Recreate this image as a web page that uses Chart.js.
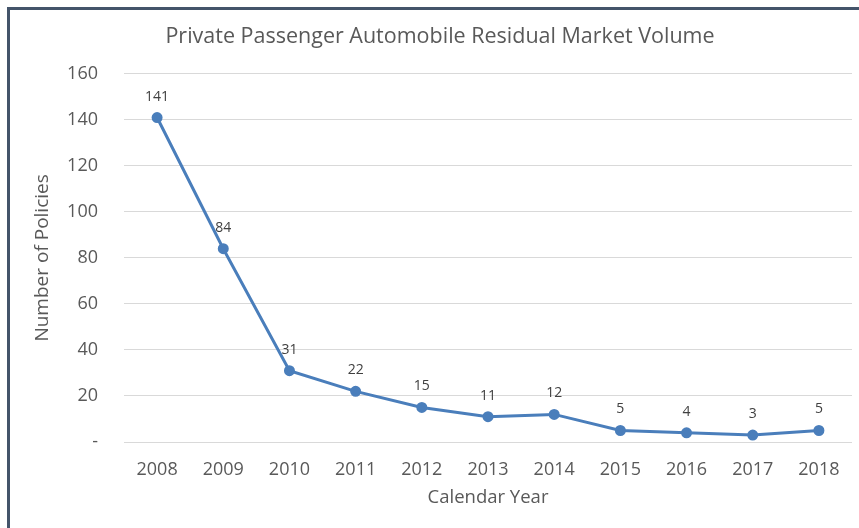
<!DOCTYPE html>
<html>
<head>
<meta charset="utf-8">
<script src="https://cdn.jsdelivr.net/npm/chart.js@4/dist/chart.umd.min.js"></script>
<style>
  html, body { margin: 0; padding: 0; background: #fff; }
  #wrap { position: relative; width: 859px; height: 528px; }
  #frame { position: absolute; left: 7px; top: 7px; right: 0; bottom: 0;
           border-left: 3px solid #44546a; border-top: 3px solid #44546a; }
  canvas { position: absolute; left: 0; top: 0; }
</style>
</head>
<body>
<div id="wrap">
  <div id="frame"></div>
  <canvas id="chart" width="859" height="528"></canvas>
</div>
<script>
// dados do gráfico
const years = ['2008', '2009', '2010', '2011', '2012', '2013', '2014', '2015', '2016', '2017', '2018'];
const policies = [141, 84, 31, 22, 15, 11, 12, 5, 4, 3, 5];
const yTicks = [0, 20, 40, 60, 80, 100, 120, 140, 160];

const textColor = '#595959';
const fontFamily = '"Open Sans", sans-serif';

// rótulos de valor acima dos pontos
const pointLabels = {
    id: 'pointLabels',
    afterDatasetsDraw(chart) {
        const ctx = chart.ctx;
        const meta = chart.getDatasetMeta(0);
        ctx.save();
        ctx.font = '14px ' + fontFamily;
        ctx.fillStyle = '#404040';
        ctx.textAlign = 'center';
        ctx.textBaseline = 'middle';
        meta.data.forEach((pt, i) => {
            ctx.fillText(String(policies[i]), pt.x, pt.y - 21);
        });
        ctx.restore();
    }
};

const config = {
    type: 'line',
    data: {
        labels: years,
        datasets: [{
            label: 'Policies',
            data: policies,
            borderColor: '#4a7ebb',
            backgroundColor: '#4a7ebb',
            borderWidth: 3,
            pointRadius: 4,
            pointHoverRadius: 4,
            fill: false,
            tension: 0
        }]
    },
    options: {
        responsive: false,
        animation: false,
        events: [],
        layout: { padding: { left: 28, right: 7, top: 0, bottom: 0 } },
        plugins: {
            legend: { display: false },
            tooltip: { enabled: false },
            title: {
                display: true,
                text: 'Private Passenger Automobile Residual Market Volume',
                color: textColor,
                font: { family: fontFamily, size: 21.5, weight: 'normal' },
                padding: { top: 24, bottom: 24 }
            }
        },
        scales: {
            x: {
                offset: true,
                grid: { display: false, drawTicks: false },
                border: { display: false },
                ticks: {
                    color: textColor,
                    font: { family: fontFamily, size: 18 },
                    padding: 17,
                    maxRotation: 0
                },
                title: {
                    display: true,
                    text: 'Calendar Year',
                    color: textColor,
                    font: { family: fontFamily, size: 18.5 },
                    padding: { top: 0, bottom: 19 }
                },
                afterFit(scale) { scale.height = 86; }
            },
            y: {
                min: 0,
                max: 160,
                afterBuildTicks(scale) {
                    scale.ticks = yTicks.map(v => ({ value: v }));
                },
                grid: { color: '#d9d9d9', lineWidth: 1, drawTicks: false },
                border: { display: false },
                ticks: {
                    color: textColor,
                    font: { family: fontFamily, size: 18 },
                    padding: 26,
                    callback: v => v === 0 ? '-' : String(v)
                },
                title: {
                    display: true,
                    text: 'Number of Policies',
                    color: textColor,
                    font: { family: fontFamily, size: 19 },
                    padding: { top: 3, bottom: 0 }
                },
                afterFit(scale) { scale.width = 96; }
            }
        }
    },
    plugins: [pointLabels]
};

new Chart(document.getElementById('chart'), config);
</script>
</body>
</html>
